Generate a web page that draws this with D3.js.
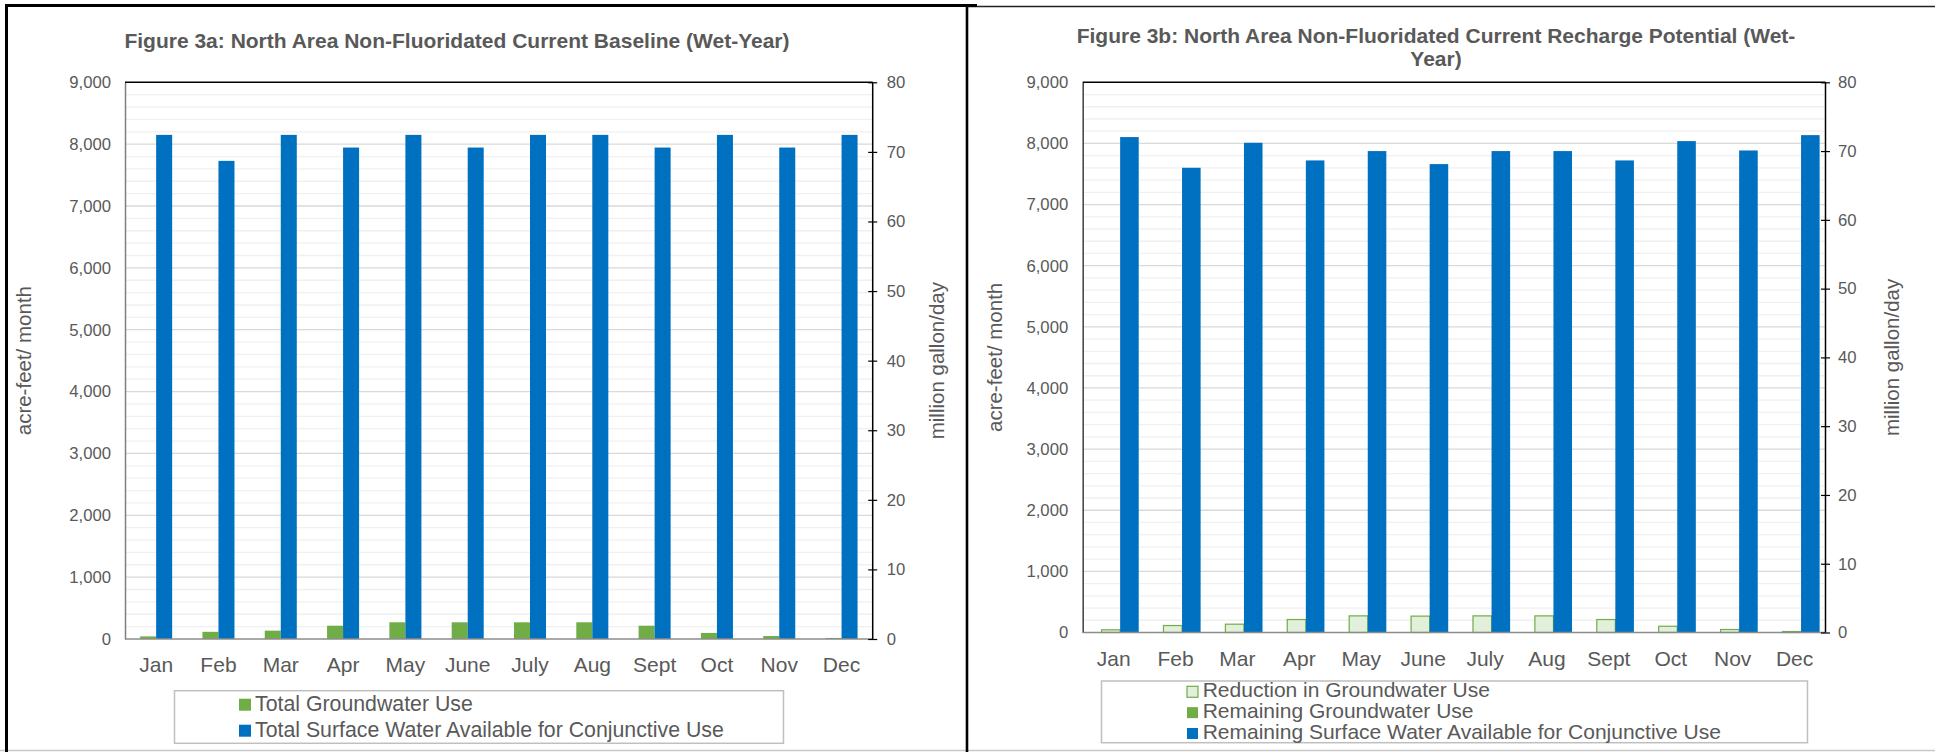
<!DOCTYPE html>
<html>
<head>
<meta charset="utf-8">
<script src="https://cdn.jsdelivr.net/npm/d3@7/dist/d3.min.js"></script>
<style>
  html, body { margin: 0; padding: 0; background: #fff; }
  svg { display: block; font-family: "Liberation Sans", Arial, sans-serif; }
</style>
</head>
<body>
<svg id="chart" width="1935" height="752"></svg>
<script>
// ---------------- DATA ----------------
const months = ["Jan","Feb","Mar","Apr","May","June","July","Aug","Sept","Oct","Nov","Dec"];

// Figure 3a (acre-feet / month)
const totalGroundwaterUse = [42,116,135,215,270,270,270,270,215,98,48,17];
const totalSurfaceWater   = [8150,7730,8150,7945,8150,7945,8150,8150,7945,8150,7945,8150];

// Figure 3b (acre-feet / month)
const reductionGroundwater  = [44,114,136,212,272,268,272,272,212,102,49,16];
const remainingGroundwater  = [0,0,0,0,0,0,0,0,0,0,0,0];
const remainingSurfaceWater = [8104,7602,8011,7722,7875,7662,7875,7875,7722,8038,7885,8136];

const leftTicks  = [0,1000,2000,3000,4000,5000,6000,7000,8000,9000];   // acre-feet/ month
const rightTicks = [0,10,20,30,40,50,60,70,80];                         // million gallon/day

const titleA = "Figure 3a: North Area Non-Fluoridated Current Baseline (Wet-Year)";
const titleB = ["Figure 3b: North Area Non-Fluoridated Current Recharge Potential (Wet-", "Year)"];
const legendA = ["Total Groundwater Use", "Total Surface Water Available for Conjunctive Use"];
const legendB = ["Reduction in Groundwater Use", "Remaining Groundwater Use", "Remaining Surface Water Available for Conjunctive Use"];
const yTitleLeft = "acre-feet/ month";
const yTitleRight = "million gallon/day";

// ---------------- STYLE ----------------
const BLUE = "#0070C0", GREEN = "#70AD47", LIGHTGREEN = "#E2EFDA", TXT = "#595959";

const svg = d3.select("#chart");

// panel frames
svg.append("line").attr("x1",0).attr("x2",1935).attr("y1",750.5).attr("y2",750.5).attr("stroke","#c8c8c8").attr("stroke-width",1.5);
svg.append("line").attr("x1",967).attr("x2",1935).attr("y1",6.5).attr("y2",6.5).attr("stroke","#222").attr("stroke-width",1.6);
svg.append("line").attr("x1",5).attr("x2",977).attr("y1",5.5).attr("y2",5.5).attr("stroke","#000").attr("stroke-width",3);
svg.append("line").attr("x1",6.5).attr("x2",6.5).attr("y1",4).attr("y2",752).attr("stroke","#000").attr("stroke-width",3);
svg.append("line").attr("x1",967).attr("x2",967).attr("y1",5).attr("y2",752).attr("stroke","#000").attr("stroke-width",2.6);

function drawChart(cfg) {
  const g = svg.append("g");
  const {x0, x1, y0, y1} = cfg.plot;

  const x = d3.scaleBand().domain(months).range([x0, x1]).padding(0);
  const bw = x.bandwidth();
  const xs = d3.scaleBand().domain(cfg.seriesKeys).range([cfg.sub[0]*bw, cfg.sub[1]*bw]).padding(0);
  const y = d3.scaleLinear().domain([0, 9000]).range([y1, y0]);
  const y2 = d3.scaleLinear().domain([0, 80]).range([y1, y0]);

  // minor gridlines (every 200)
  const minor = d3.range(200, 9000, 200).filter(v => v % 1000 !== 0);
  g.append("g").selectAll("line").data(minor).join("line")
    .attr("x1", x0).attr("x2", x1)
    .attr("y1", d => y(d)).attr("y2", d => y(d))
    .attr("stroke", "#f0f0f0").attr("stroke-width", 1.3);
  // major gridlines
  g.append("g").selectAll("line").data(leftTicks.filter(v => v > 0 && v < 9000)).join("line")
    .attr("x1", x0).attr("x2", x1)
    .attr("y1", d => y(d)).attr("y2", d => y(d))
    .attr("stroke", "#d9d9d9").attr("stroke-width", 1.3);

  // bars
  cfg.series.forEach(s => {
    g.append("g").selectAll("rect").data(months).join("rect")
      .attr("x", m => x(m) + xs(s.slot))
      .attr("width", xs.bandwidth())
      .attr("y", (m, i) => y(s.base[i] + s.values[i]))
      .attr("height", (m, i) => Math.max(0, y(s.base[i]) - y(s.base[i] + s.values[i])))
      .attr("fill", s.fill)
      .attr("stroke", s.stroke || "none")
      .attr("stroke-width", s.stroke ? 1.2 : 0);
  });

  // left axis
  const ay = g.append("g").attr("transform", `translate(${x0},0)`)
    .call(d3.axisLeft(y).tickValues(leftTicks).tickSize(0).tickPadding(cfg.leftPad).tickFormat(d3.format(",")));
  ay.select(".domain").attr("stroke", cfg.leftAxisColor).attr("stroke-width", 1.5);
  ay.selectAll("text").attr("fill", TXT).style("font-size", "16.7px");

  // bottom axis
  const ax = g.append("g").attr("transform", `translate(0,${y1})`)
    .call(d3.axisBottom(x).tickSize(0).tickPadding(0));
  ax.select(".domain").remove();
  ax.selectAll("text").attr("fill", TXT).style("font-size", "21px").attr("dy", null).attr("y", 33);
  g.append("line").attr("x1", x0).attr("x2", x1).attr("y1", y1).attr("y2", y1)
    .attr("stroke", "#8c8c8c").attr("stroke-width", 1.5);

  // top border
  g.append("line").attr("x1", x0).attr("x2", x1).attr("y1", y0).attr("y2", y0)
    .attr("stroke", "#000").attr("stroke-width", 1.5);

  // right (secondary) axis
  const ar = g.append("g").attr("transform", `translate(${x1},0)`)
    .call(d3.axisRight(y2).tickValues(rightTicks).tickSize(4.5).tickPadding(cfg.rightPad));
  ar.select(".domain").attr("stroke", "#000").attr("stroke-width", 1.5).attr("d", `M0,${y0}V${y1}`);
  ar.selectAll(".tick line").attr("x1", -4.5).attr("x2", 4.5).attr("stroke", "#000").attr("stroke-width", 1.2);
  ar.selectAll("text").attr("fill", TXT).style("font-size", "16.7px");

  // axis titles
  g.append("text").attr("transform", `translate(${cfg.yTitleX},${(y0 + y1) / 2}) rotate(-90)`)
    .attr("text-anchor", "middle").attr("dy", "0.36em")
    .attr("fill", TXT).style("font-size", "20.5px").text(yTitleLeft);
  g.append("text").attr("transform", `translate(${cfg.y2TitleX},${(y0 + y1) / 2}) rotate(-90)`)
    .attr("text-anchor", "middle").attr("dy", "0.36em")
    .attr("fill", TXT).style("font-size", "20.5px").text(yTitleRight);

  // chart title
  const t = g.append("text").attr("text-anchor", "middle").attr("fill", TXT)
    .style("font-size", "21px").style("font-weight", "bold");
  cfg.title.forEach((line, i) => {
    t.append("tspan").attr("x", cfg.titleX).attr("y", cfg.titleY + i * 22.7).text(line);
  });

  // legend
  const L = cfg.legend;
  g.append("rect").attr("x", L.x).attr("y", L.y).attr("width", L.w).attr("height", L.h)
    .attr("fill", "#fff").attr("stroke", "#bfbfbf").attr("stroke-width", 1.5);
  L.items.forEach((it, i) => {
    const by = L.firstBase + i * L.step;
    g.append("rect").attr("x", L.mx).attr("y", by - L.msize).attr("width", L.msize).attr("height", L.msize)
      .attr("fill", it.fill).attr("stroke", it.stroke || "none").attr("stroke-width", it.stroke ? 1.2 : 0);
    g.append("text").attr("x", L.tx).attr("y", by).attr("fill", TXT)
      .style("font-size", L.font + "px").text(it.label);
  });
}

const zeros = months.map(() => 0);

drawChart({
  plot: {x0: 125, x1: 872.7, y0: 82.3, y1: 639},
  seriesKeys: ["gw", "sw"],
  sub: [0.243, 0.757],
  series: [
    {slot: "gw", values: totalGroundwaterUse, base: zeros, fill: GREEN},
    {slot: "sw", values: totalSurfaceWater, base: zeros, fill: BLUE}
  ],
  leftPad: 14, rightPad: 9.5, leftAxisColor: "#7f7f7f",
  yTitleX: 24, y2TitleX: 937,
  title: [titleA], titleX: 457, titleY: 47.7,
  legend: {x: 174.5, y: 690.7, w: 609, h: 52.6, mx: 239, tx: 255, msize: 12, firstBase: 710.7, step: 26, font: 21.3,
    items: [{label: legendA[0], fill: GREEN}, {label: legendA[1], fill: BLUE}]}
});

drawChart({
  plot: {x0: 1082.7, x1: 1825.5, y0: 82.3, y1: 632.5},
  seriesKeys: ["gw", "sw"],
  sub: [0.305, 0.905],
  series: [
    {slot: "gw", values: remainingGroundwater, base: zeros, fill: GREEN},
    {slot: "gw", values: reductionGroundwater, base: remainingGroundwater, fill: LIGHTGREEN, stroke: GREEN},
    {slot: "sw", values: remainingSurfaceWater, base: zeros, fill: BLUE}
  ],
  leftPad: 14.5, rightPad: 8, leftAxisColor: "#404040",
  yTitleX: 994.5, y2TitleX: 1892,
  title: titleB, titleX: 1436, titleY: 43.3,
  legend: {x: 1101.5, y: 681, w: 706, h: 61.7, mx: 1187, tx: 1202.7, msize: 11, firstBase: 697.3, step: 20.85, font: 21,
    items: [{label: legendB[0], fill: LIGHTGREEN, stroke: GREEN}, {label: legendB[1], fill: GREEN}, {label: legendB[2], fill: BLUE}]}
});
</script>
</body>
</html>
